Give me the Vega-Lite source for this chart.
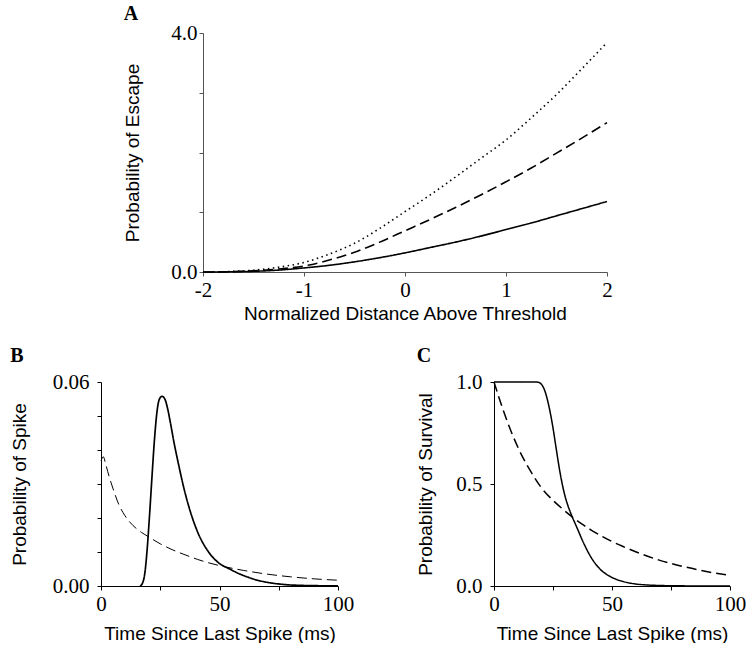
{
  "$schema": "https://vega.github.io/schema/vega-lite/v6.json",
  "background": "white",
  "padding": {"left": 10, "top": 4, "right": 2, "bottom": 0},
  "spacing": 23,
  "config": {
    "view": {"stroke": null},
    "axis": {
      "grid": false,
      "domainColor": "black",
      "tickColor": "black",
      "domainWidth": 1,
      "tickWidth": 1,
      "tickSize": 4,
      "labelFont": "Liberation Serif",
      "labelFontSize": 21,
      "labelColor": "black",
      "labelFlush": false,
      "labelOverlap": false,
      "titleFont": "Liberation Sans",
      "titleFontSize": 19,
      "titleFontWeight": "normal",
      "titleColor": "black"
    },
    "title": {"font": "Liberation Serif", "fontSize": 20, "fontWeight": "bold", "anchor": "start", "frame": "bounds", "color": "black", "offset": 4},
    "line": {"color": "black"}
  },
  "datasets": {
    "A": [
      {"s": "solid", "x": -2, "y": 0}, {"s": "solid", "x": -1.75, "y": 0.003}, {"s": "solid", "x": -1.5, "y": 0.012}, {"s": "solid", "x": -1.25, "y": 0.032}, {"s": "solid", "x": -1, "y": 0.068}, {"s": "solid", "x": -0.75, "y": 0.112}, {"s": "solid", "x": -0.5, "y": 0.17}, {"s": "solid", "x": -0.25, "y": 0.24}, {"s": "solid", "x": 0, "y": 0.32}, {"s": "solid", "x": 0.25, "y": 0.41}, {"s": "solid", "x": 0.5, "y": 0.5}, {"s": "solid", "x": 0.75, "y": 0.6}, {"s": "solid", "x": 1, "y": 0.71}, {"s": "solid", "x": 1.25, "y": 0.82}, {"s": "solid", "x": 1.5, "y": 0.94}, {"s": "solid", "x": 1.75, "y": 1.06}, {"s": "solid", "x": 2, "y": 1.18},
      {"s": "dashed", "x": -2, "y": 0}, {"s": "dashed", "x": -1.75, "y": 0.005}, {"s": "dashed", "x": -1.5, "y": 0.02}, {"s": "dashed", "x": -1.25, "y": 0.05}, {"s": "dashed", "x": -1, "y": 0.1}, {"s": "dashed", "x": -0.75, "y": 0.2}, {"s": "dashed", "x": -0.5, "y": 0.33}, {"s": "dashed", "x": -0.25, "y": 0.5}, {"s": "dashed", "x": 0, "y": 0.69}, {"s": "dashed", "x": 0.25, "y": 0.88}, {"s": "dashed", "x": 0.5, "y": 1.08}, {"s": "dashed", "x": 0.75, "y": 1.29}, {"s": "dashed", "x": 1, "y": 1.51}, {"s": "dashed", "x": 1.25, "y": 1.74}, {"s": "dashed", "x": 1.5, "y": 1.99}, {"s": "dashed", "x": 1.75, "y": 2.24}, {"s": "dashed", "x": 2, "y": 2.5},
      {"s": "dotted", "x": -2, "y": 0}, {"s": "dotted", "x": -1.75, "y": 0.007}, {"s": "dotted", "x": -1.5, "y": 0.03}, {"s": "dotted", "x": -1.25, "y": 0.08}, {"s": "dotted", "x": -1, "y": 0.16}, {"s": "dotted", "x": -0.75, "y": 0.3}, {"s": "dotted", "x": -0.5, "y": 0.48}, {"s": "dotted", "x": -0.25, "y": 0.73}, {"s": "dotted", "x": 0, "y": 1.01}, {"s": "dotted", "x": 0.25, "y": 1.29}, {"s": "dotted", "x": 0.5, "y": 1.59}, {"s": "dotted", "x": 0.75, "y": 1.9}, {"s": "dotted", "x": 1, "y": 2.21}, {"s": "dotted", "x": 1.25, "y": 2.58}, {"s": "dotted", "x": 1.5, "y": 2.97}, {"s": "dotted", "x": 1.75, "y": 3.4}, {"s": "dotted", "x": 2, "y": 3.84}
    ],
    "B": [
      {"s": "solid", "x": 16.5, "y": 0}, {"s": "solid", "x": 17.5, "y": 0.0008}, {"s": "solid", "x": 18.5, "y": 0.0038}, {"s": "solid", "x": 19.5, "y": 0.011}, {"s": "solid", "x": 20.5, "y": 0.021}, {"s": "solid", "x": 21.5, "y": 0.032}, {"s": "solid", "x": 22.5, "y": 0.0425}, {"s": "solid", "x": 23.5, "y": 0.0505}, {"s": "solid", "x": 24.5, "y": 0.0547}, {"s": "solid", "x": 25.7, "y": 0.0558}, {"s": "solid", "x": 27, "y": 0.0549}, {"s": "solid", "x": 28, "y": 0.0525}, {"s": "solid", "x": 29.5, "y": 0.0472}, {"s": "solid", "x": 31, "y": 0.0415}, {"s": "solid", "x": 32.5, "y": 0.0365}, {"s": "solid", "x": 35, "y": 0.0287}, {"s": "solid", "x": 38, "y": 0.0212}, {"s": "solid", "x": 41, "y": 0.0155}, {"s": "solid", "x": 45, "y": 0.0104}, {"s": "solid", "x": 50, "y": 0.0066}, {"s": "solid", "x": 54, "y": 0.0051}, {"s": "solid", "x": 58, "y": 0.0037}, {"s": "solid", "x": 62, "y": 0.0026}, {"s": "solid", "x": 66, "y": 0.0017}, {"s": "solid", "x": 70, "y": 0.0011}, {"s": "solid", "x": 75, "y": 0.0006}, {"s": "solid", "x": 80, "y": 0.0003}, {"s": "solid", "x": 90, "y": 0.0001}, {"s": "solid", "x": 100, "y": 0.00003},
      {"s": "dashed", "x": 0, "y": 0.0368}, {"s": "dashed", "x": 1, "y": 0.038}, {"s": "dashed", "x": 2, "y": 0.0358}, {"s": "dashed", "x": 3.5, "y": 0.032}, {"s": "dashed", "x": 5, "y": 0.0288}, {"s": "dashed", "x": 7.5, "y": 0.024}, {"s": "dashed", "x": 10, "y": 0.0208}, {"s": "dashed", "x": 13.5, "y": 0.0178}, {"s": "dashed", "x": 17, "y": 0.0158}, {"s": "dashed", "x": 20, "y": 0.0145}, {"s": "dashed", "x": 25, "y": 0.0124}, {"s": "dashed", "x": 30, "y": 0.0107}, {"s": "dashed", "x": 35, "y": 0.0093}, {"s": "dashed", "x": 40.8, "y": 0.0078}, {"s": "dashed", "x": 45, "y": 0.0069}, {"s": "dashed", "x": 50, "y": 0.006}, {"s": "dashed", "x": 54, "y": 0.0054}, {"s": "dashed", "x": 60, "y": 0.0046}, {"s": "dashed", "x": 70, "y": 0.0035}, {"s": "dashed", "x": 80, "y": 0.0027}, {"s": "dashed", "x": 90, "y": 0.0021}, {"s": "dashed", "x": 100, "y": 0.0017}
    ],
    "C": [
      {"s": "solid", "x": 0, "y": 1}, {"s": "solid", "x": 18, "y": 1}, {"s": "solid", "x": 19, "y": 0.998}, {"s": "solid", "x": 20, "y": 0.99}, {"s": "solid", "x": 21, "y": 0.972}, {"s": "solid", "x": 22, "y": 0.94}, {"s": "solid", "x": 23, "y": 0.895}, {"s": "solid", "x": 24, "y": 0.84}, {"s": "solid", "x": 25, "y": 0.775}, {"s": "solid", "x": 26, "y": 0.7}, {"s": "solid", "x": 27, "y": 0.625}, {"s": "solid", "x": 28, "y": 0.555}, {"s": "solid", "x": 29, "y": 0.495}, {"s": "solid", "x": 30, "y": 0.445}, {"s": "solid", "x": 31, "y": 0.405}, {"s": "solid", "x": 32, "y": 0.372}, {"s": "solid", "x": 33, "y": 0.343}, {"s": "solid", "x": 35, "y": 0.29}, {"s": "solid", "x": 38, "y": 0.21}, {"s": "solid", "x": 41, "y": 0.143}, {"s": "solid", "x": 45, "y": 0.082}, {"s": "solid", "x": 49, "y": 0.048}, {"s": "solid", "x": 55, "y": 0.021}, {"s": "solid", "x": 60, "y": 0.01}, {"s": "solid", "x": 65, "y": 0.005}, {"s": "solid", "x": 70, "y": 0.0025}, {"s": "solid", "x": 80, "y": 0.0007}, {"s": "solid", "x": 90, "y": 0.0002}, {"s": "solid", "x": 100, "y": 0},
      {"s": "dashed", "x": 0, "y": 1}, {"s": "dashed", "x": 3.5, "y": 0.875}, {"s": "dashed", "x": 7.7, "y": 0.745}, {"s": "dashed", "x": 12, "y": 0.635}, {"s": "dashed", "x": 16, "y": 0.553}, {"s": "dashed", "x": 20, "y": 0.483}, {"s": "dashed", "x": 25, "y": 0.42}, {"s": "dashed", "x": 29, "y": 0.378}, {"s": "dashed", "x": 33, "y": 0.34}, {"s": "dashed", "x": 37, "y": 0.306}, {"s": "dashed", "x": 41.5, "y": 0.272}, {"s": "dashed", "x": 46, "y": 0.242}, {"s": "dashed", "x": 50, "y": 0.218}, {"s": "dashed", "x": 55, "y": 0.192}, {"s": "dashed", "x": 60, "y": 0.168}, {"s": "dashed", "x": 70, "y": 0.127}, {"s": "dashed", "x": 80, "y": 0.096}, {"s": "dashed", "x": 90, "y": 0.071}, {"s": "dashed", "x": 100, "y": 0.052}
    ]
  },
  "vconcat": [
    {
      "spacing": 0,
      "hconcat": [
        {"width": 22, "height": 10, "data": {"values": []}, "mark": "point"},
        {
          "title": {"text": "A", "offset": -2},
          "width": 404,
          "height": 239,
          "data": {"name": "A"},
          "mark": {"type": "line", "strokeWidth": 1.6, "interpolate": "monotone"},
          "encoding": {
            "x": {"field": "x", "type": "quantitative", "scale": {"domain": [-2, 2], "nice": false, "zero": false},
              "axis": {"values": [-2, -1, 0, 1, 2], "labelExpr": "'' + datum.value", "title": "Normalized Distance Above Threshold", "labelPadding": 3, "titlePadding": 4, "domainColor": "#555", "tickColor": "#555"}},
            "y": {"field": "y", "type": "quantitative", "scale": {"domain": [0, 4], "nice": false},
              "axis": {"values": [0, 1, 2, 3, 4], "labelExpr": "datum.value == 0 || datum.value == 4 ? format(datum.value, '.1f') : ''", "title": "Probability of Escape", "labelPadding": 2, "titlePadding": 28, "domainColor": "#555", "tickColor": "#555"}},
            "strokeDash": {"field": "s", "type": "nominal", "scale": {"domain": ["solid", "dashed", "dotted"], "range": [[1, 0], [10, 5], [1.5, 3.5]]}, "legend": null}
          }
        }
      ]
    },
    {
      "spacing": 62,
      "hconcat": [
        {
          "title": {"text": "B", "offset": 5},
          "width": 237,
          "height": 204,
          "data": {"name": "B"},
          "mark": {"type": "line", "interpolate": "monotone"},
          "encoding": {
            "x": {"field": "x", "type": "quantitative", "scale": {"domain": [0, 100], "nice": false},
              "axis": {"values": [0, 25, 50, 75, 100], "labelExpr": "datum.value % 50 == 0 ? '' + datum.value : ''", "title": "Time Since Last Spike (ms)", "labelPadding": 3, "titlePadding": 10}},
            "y": {"field": "y", "type": "quantitative", "scale": {"domain": [0, 0.06], "nice": false},
              "axis": {"values": [0, 0.01, 0.02, 0.03, 0.04, 0.05, 0.06], "labelExpr": "datum.value == 0 || datum.value == 0.06 ? format(datum.value, '.2f') : ''", "title": "Probability of Spike", "labelPadding": 8, "titlePadding": 23}},
            "strokeDash": {"field": "s", "type": "nominal", "scale": {"domain": ["solid", "dashed"], "range": [[1, 0], [8, 5]]}, "legend": null},
            "strokeWidth": {"field": "s", "type": "ordinal", "scale": {"domain": ["solid", "dashed"], "range": [1.7, 1]}, "legend": null}
          }
        },
        {
          "title": {"text": "C", "offset": 5},
          "width": 236,
          "height": 204,
          "data": {"name": "C"},
          "mark": {"type": "line", "interpolate": "monotone", "strokeWidth": 1.5},
          "encoding": {
            "x": {"field": "x", "type": "quantitative", "scale": {"domain": [0, 100], "nice": false},
              "axis": {"values": [0, 25, 50, 75, 100], "labelExpr": "datum.value % 50 == 0 ? '' + datum.value : ''", "title": "Time Since Last Spike (ms)", "labelPadding": 3, "titlePadding": 10}},
            "y": {"field": "y", "type": "quantitative", "scale": {"domain": [0, 1], "nice": false},
              "axis": {"values": [0, 0.5, 1], "format": ".1f", "title": "Probability of Survival", "labelPadding": 8, "titlePadding": 20}},
            "strokeDash": {"field": "s", "type": "nominal", "scale": {"domain": ["solid", "dashed"], "range": [[1, 0], [8, 5]]}, "legend": null}
          }
        }
      ]
    }
  ]
}
